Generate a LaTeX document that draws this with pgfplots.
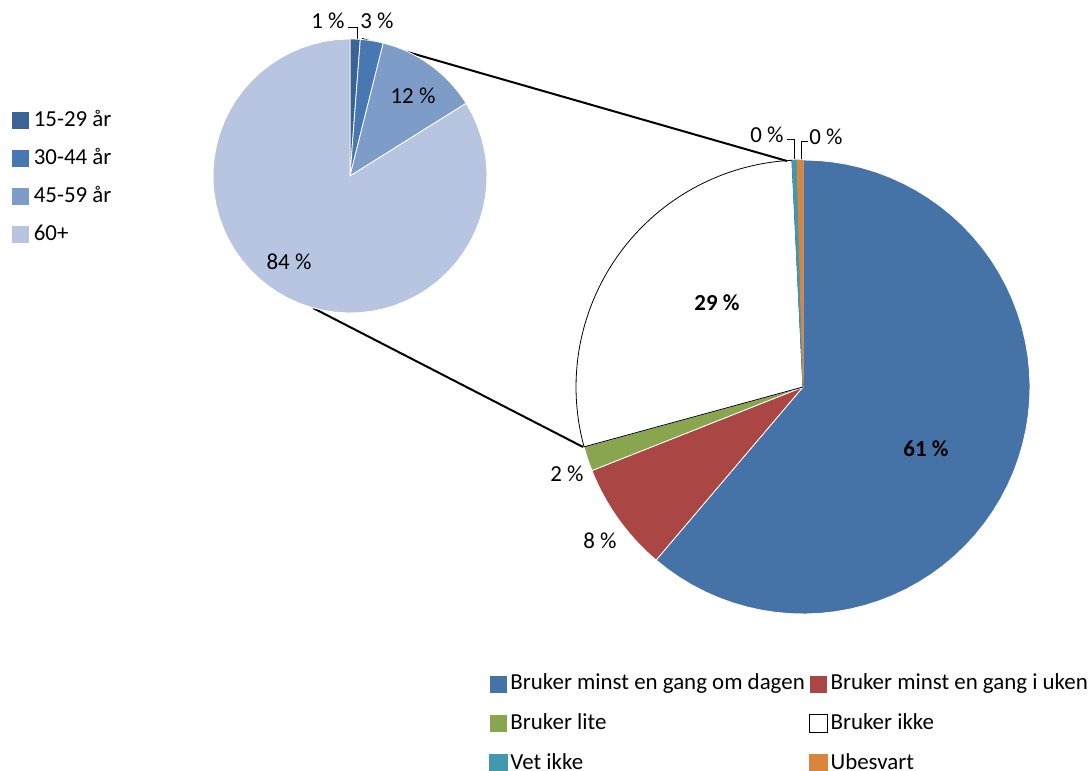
\documentclass[border=0pt]{standalone}
\usepackage{fontspec}
\setmainfont{Carlito}
\usepackage{pgfplots}
\pgfplotsset{compat=1.18}

\definecolor{dagen}{RGB}{69,114,167}
\definecolor{uken}{RGB}{170,70,67}
\definecolor{lite}{RGB}{137,165,78}
\definecolor{vetikke}{RGB}{65,152,175}
\definecolor{ubesvart}{RGB}{219,132,61}
\definecolor{ageA}{RGB}{59,99,150}
\definecolor{ageB}{RGB}{72,120,178}
\definecolor{ageC}{RGB}{126,156,200}
\definecolor{ageD}{RGB}{183,197,224}

\newcommand\lbl{\fontsize{11.45}{13.5}\selectfont}

% one pie slice: colour, cx, cy, r, from %, to %, edge colour
\newcommand\slice[7]{%
  \addplot[fill=#1, draw=#7, line width=0.4pt, variable=\t, samples=60,
    domain={90-3.6*(#6)}:{90-3.6*(#5)}]
    ({#2+#4*cos(\t)},{#3+#4*sin(\t)}) -- (axis cs:#2,#3) -- cycle;}

\pgfplotsset{
  canvas/.style={
    width=544pt, height=385.5pt, scale only axis,
    xmin=0, xmax=1088, ymin=0, ymax=771,
    hide axis, clip=false, at={(0,0)}, anchor=south west,
    legend cell align=left,
    legend image code/.code={\draw[##1] (0pt,-4.5pt) rectangle (9pt,4.5pt);},
    legend style={draw=none, fill=none, inner sep=0pt, outer sep=0pt,
      font=\lbl,
      nodes={inner sep=1pt, text height=0.8em, text depth=0.2em}},
  },
}

\begin{document}
\begin{tikzpicture}
% main pie
\begin{axis}[canvas, legend columns=2,
    legend style={at={(0.4495,0.1285)}, anchor=north west, row sep=7.9pt,
      /tikz/every odd column/.append style={column sep=0.3pt},
      /tikz/every even column/.append style={column sep=1.2pt}}]
  \slice{dagen}{803}{384}{227}{0}{61.2}{white}
  \addlegendentry{Bruker minst en gang om dagen}
  \slice{uken}{803}{384}{227}{61.2}{69.0}{white}
  \addlegendentry{Bruker minst en gang i uken}
  \slice{lite}{803}{384}{227}{69.0}{70.75}{white}
  \addlegendentry{Bruker lite}
  \slice{white}{803}{384}{227}{70.75}{99.23}{black}
  \addlegendentry{Bruker ikke}
  \slice{vetikke}{803}{384}{227}{99.23}{99.58}{vetikke}
  \addlegendentry{Vet ikke}
  \slice{ubesvart}{803}{384}{227}{99.58}{100}{ubesvart}
  \addlegendentry{Ubesvart}
  % connector lines to the age pie
  \addplot[black, line width=1pt, forget plot] coordinates {(362,732) (787,610)};
  \addplot[black, line width=1pt, forget plot] coordinates {(313,463) (583,324)};
  % leader lines
  \addplot[black, line width=0.5pt, forget plot] coordinates {(787,631) (794,631) (794,612)};
  \addplot[black, line width=0.5pt, forget plot] coordinates {(808,629) (801,629) (801,612)};
  \addplot[black, line width=0.5pt, forget plot] coordinates {(348,743) (357,743) (357,731)};
  % data labels
  \node[font=\lbl] at (axis cs:926,322) {\textbf{61~\%}};
  \node[font=\lbl] at (axis cs:717,468) {\textbf{29~\%}};
  \node[font=\lbl] at (axis cs:600,230) {8~\%};
  \node[font=\lbl] at (axis cs:567,297) {2~\%};
  \node[font=\lbl] at (axis cs:767,636) {0~\%};
  \node[font=\lbl] at (axis cs:826,634) {0~\%};
  \node[font=\lbl] at (axis cs:328,750) {1~\%};
  \node[font=\lbl] at (axis cs:377,750) {3~\%};
\end{axis}
% age pie
\begin{axis}[canvas,
    legend style={at={(0.0105,0.8590)}, anchor=north west, row sep=7pt,
      /tikz/every odd column/.append style={column sep=0.8pt}}]
  \slice{ageA}{350}{595}{137}{0}{1.2}{white}
  \addlegendentry{15-29 år}
  \slice{ageB}{350}{595}{137}{1.2}{3.9}{white}
  \addlegendentry{30-44 år}
  \slice{ageC}{350}{595}{137}{3.9}{16.1}{white}
  \addlegendentry{45-59 år}
  \slice{ageD}{350}{595}{137}{16.1}{100}{white}
  \addlegendentry{60+}
  \node[font=\lbl] at (axis cs:413,675) {12~\%};
  \node[font=\lbl] at (axis cs:289,509) {84~\%};
\end{axis}
\pgfresetboundingbox
\path[use as bounding box] (0,0) rectangle (544pt,385.5pt);
\end{tikzpicture}
\end{document}
